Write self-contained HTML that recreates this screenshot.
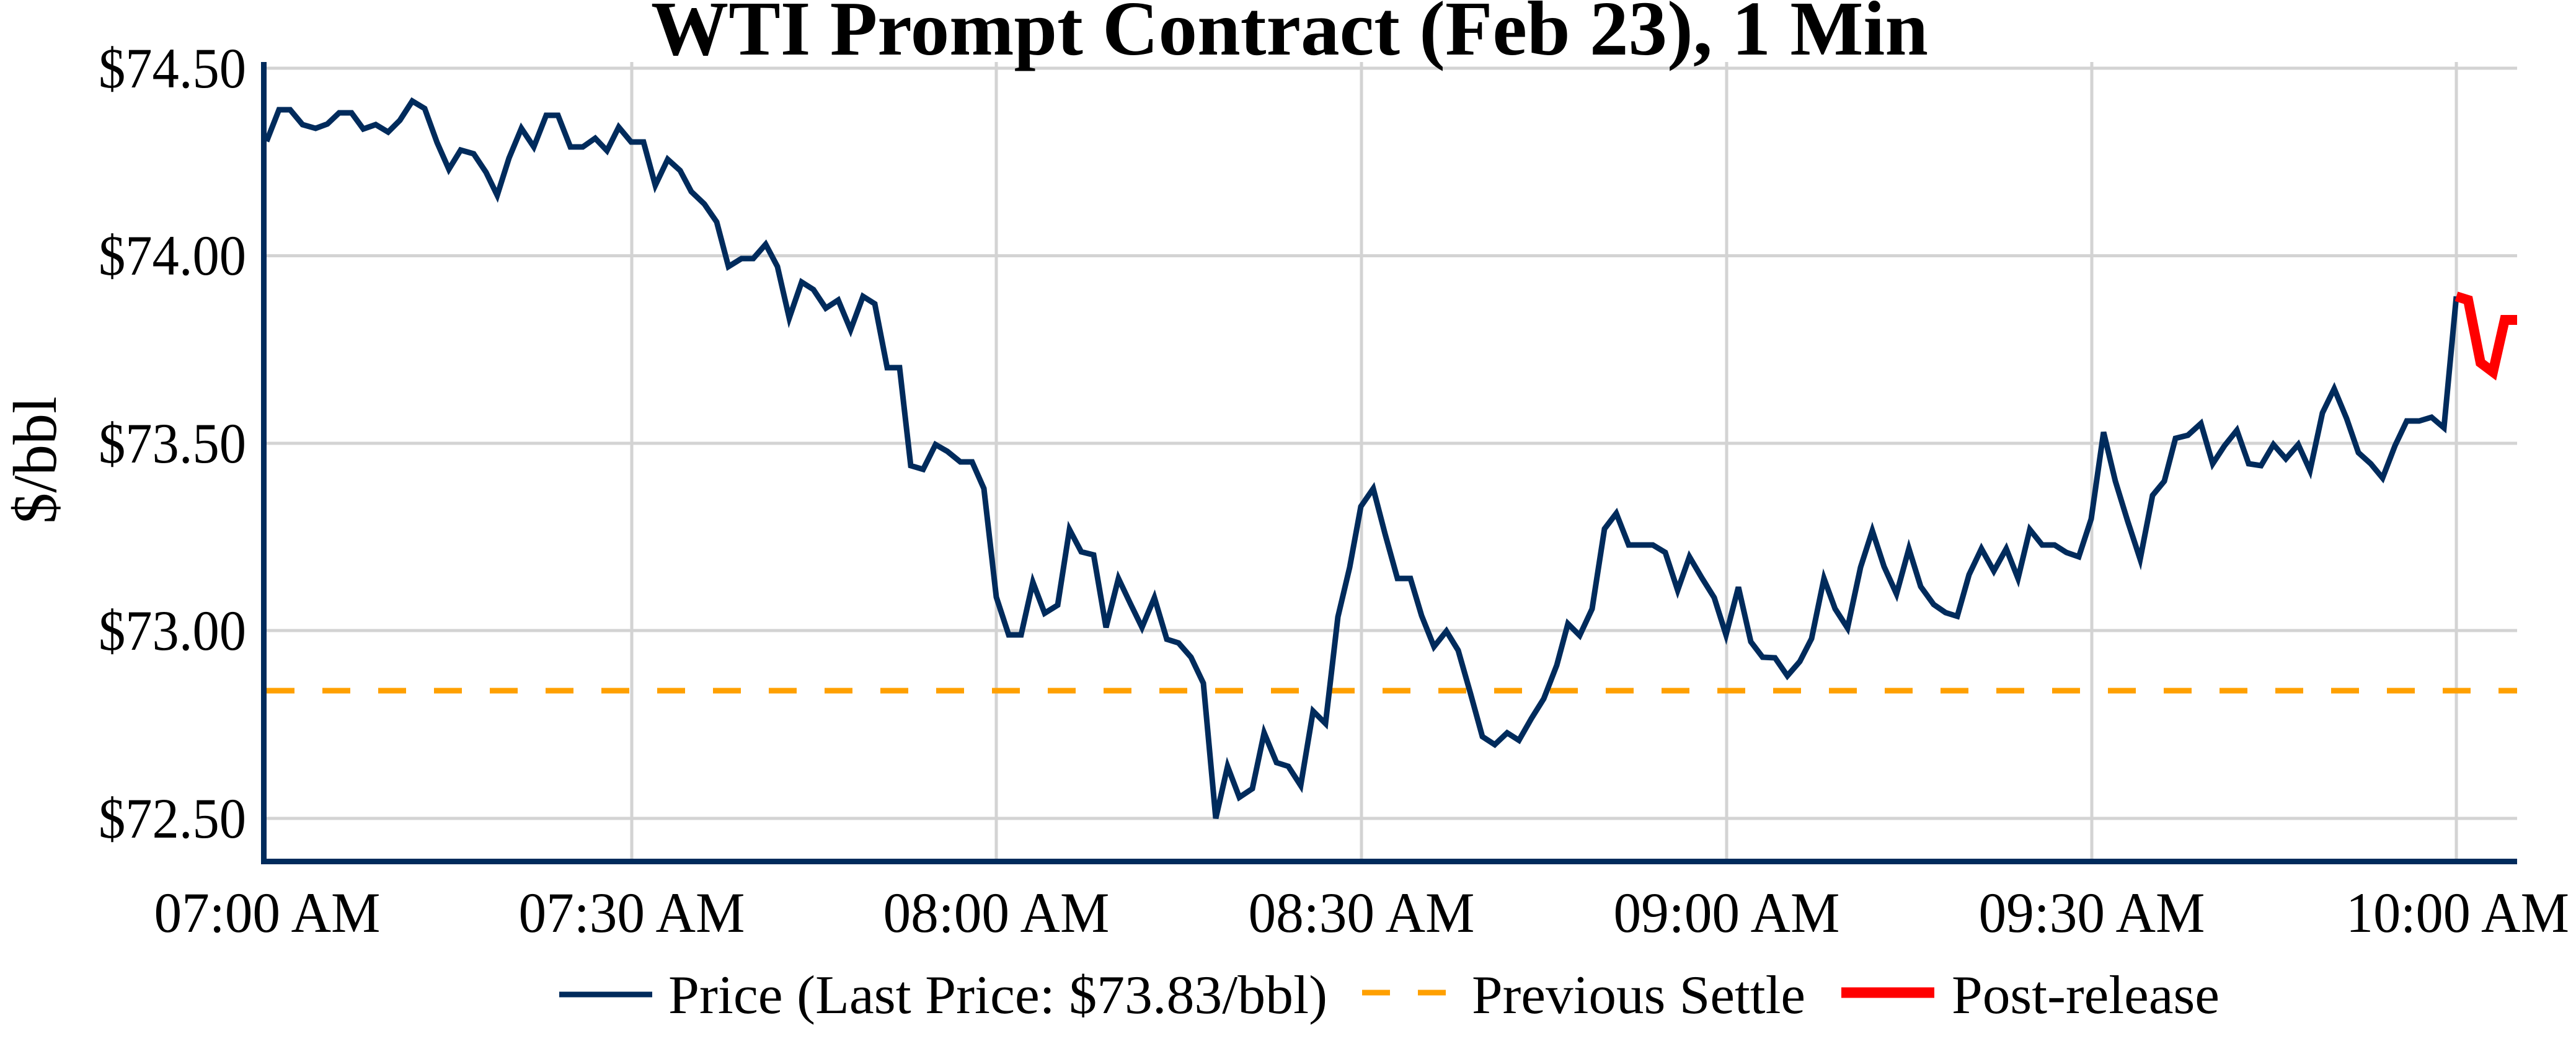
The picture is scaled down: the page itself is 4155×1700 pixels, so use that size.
<!DOCTYPE html>
<html><head><meta charset="utf-8"><style>html,body{margin:0;padding:0;background:#fff}svg{display:block}</style></head>
<body>
<svg width="4155" height="1700" viewBox="0 0 4155 1700" xmlns="http://www.w3.org/2000/svg" font-family="'Liberation Serif', serif">
<rect width="4155" height="1700" fill="#fff"/>
<g stroke="#d3d3d3" stroke-width="5">
<line x1="430" y1="110" x2="4060" y2="110"/>
<line x1="430" y1="412.5" x2="4060" y2="412.5"/>
<line x1="430" y1="715" x2="4060" y2="715"/>
<line x1="430" y1="1017" x2="4060" y2="1017"/>
<line x1="430" y1="1320" x2="4060" y2="1320"/>
<line x1="1019" y1="100" x2="1019" y2="1386"/>
<line x1="1607" y1="100" x2="1607" y2="1386"/>
<line x1="2196" y1="100" x2="2196" y2="1386"/>
<line x1="2785" y1="100" x2="2785" y2="1386"/>
<line x1="3374" y1="100" x2="3374" y2="1386"/>
<line x1="3962" y1="100" x2="3962" y2="1386"/>
</g>
<line x1="430" y1="1114" x2="4060" y2="1114" stroke="#ffa000" stroke-width="9" stroke-dasharray="45 45"/>
<polyline fill="none" stroke="#002b5c" stroke-width="9" stroke-linejoin="miter" points="430,228 450,177 468,177 488,201 509,207 528,200 547,182 567,182 586,208 606,201 626,213 645,194 665,163 685,175 705,230 724,273 743,242 764,248 784,278 802,315 821,255 841,207 861,237 881,186 900,186 920,237 940,237 960,223 979,243 998,205 1018,229 1038,229 1057,299 1077,257 1097,275 1115,309 1136,329 1156,358 1175,430 1196,417 1215,417 1235,394 1254,430 1273,513 1293,455 1312,467 1332,497 1352,484 1372,532 1392,478 1411,490 1431,593 1451,593 1469,751 1489,757 1509,717 1528,728 1549,745 1568,745 1587,788 1607,963 1627,1024 1647,1024 1666,939 1685,989 1706,976 1725,854 1744,890 1764,895 1784,1012 1804,933 1823,973 1842,1012 1862,964 1882,1031 1901,1037 1921,1060 1941,1102 1961,1320 1980,1236 1999,1286 2020,1272 2039,1182 2059,1230 2078,1236 2098,1267 2118,1147 2138,1167 2158,995 2177,915 2195,817 2215,788 2234,861 2254,933 2275,933 2293,993 2313,1043 2333,1018 2352,1049 2372,1119 2391,1188 2411,1201 2431,1182 2450,1194 2470,1159 2490,1127 2511,1073 2529,1006 2548,1025 2568,982 2588,853 2607,828 2627,879 2647,879 2666,879 2686,891 2706,952 2725,898 2745,932 2765,964 2784,1024 2804,947 2824,1035 2843,1060 2863,1061 2883,1090 2903,1067 2922,1030 2942,933 2960,982 2980,1013 3001,915 3020,856 3039,914 3059,958 3079,885 3098,946 3119,975 3138,988 3157,994 3176,927 3196,885 3216,921 3236,885 3255,933 3274,854 3294,879 3314,879 3333,891 3353,898 3373,837 3393,697 3412,776 3432,841 3452,902 3472,799 3491,776 3509,707 3529,702 3550,683 3569,748 3588,719 3608,694 3627,748 3647,751 3667,717 3687,740 3707,717 3726,759 3746,666 3765,627 3785,675 3804,730 3824,748 3843,771 3863,719 3882,679 3902,679 3922,673 3942,690 3962,478"/>
<polyline fill="none" stroke="#ff0000" stroke-width="16" stroke-linejoin="miter" points="3962,478 3981,484 4001,585 4021,600 4040,516 4060,516"/>
<line x1="425.5" y1="100" x2="425.5" y2="1394" stroke="#002b5c" stroke-width="9"/>
<line x1="421" y1="1389.5" x2="4060" y2="1389.5" stroke="#002b5c" stroke-width="9"/>
<text x="2080" y="88" font-size="125" font-weight="bold" text-anchor="middle" textLength="2060" lengthAdjust="spacingAndGlyphs">WTI Prompt Contract (Feb 23), 1 Min</text>
<g font-size="92" text-anchor="end">
<text x="397" y="141" textLength="238" lengthAdjust="spacingAndGlyphs">$74.50</text>
<text x="397" y="443" textLength="238" lengthAdjust="spacingAndGlyphs">$74.00</text>
<text x="397" y="746" textLength="238" lengthAdjust="spacingAndGlyphs">$73.50</text>
<text x="397" y="1048" textLength="238" lengthAdjust="spacingAndGlyphs">$73.00</text>
<text x="397" y="1351" textLength="238" lengthAdjust="spacingAndGlyphs">$72.50</text>
</g>
<g font-size="92" text-anchor="middle">
<text x="431" y="1503" textLength="365" lengthAdjust="spacingAndGlyphs">07:00 AM</text>
<text x="1019" y="1503" textLength="365" lengthAdjust="spacingAndGlyphs">07:30 AM</text>
<text x="1607" y="1503" textLength="365" lengthAdjust="spacingAndGlyphs">08:00 AM</text>
<text x="2196" y="1503" textLength="365" lengthAdjust="spacingAndGlyphs">08:30 AM</text>
<text x="2785" y="1503" textLength="365" lengthAdjust="spacingAndGlyphs">09:00 AM</text>
<text x="3374" y="1503" textLength="365" lengthAdjust="spacingAndGlyphs">09:30 AM</text>
<text x="3964" y="1503" textLength="360" lengthAdjust="spacingAndGlyphs">10:00 AM</text>
</g>
<text transform="translate(90,742) rotate(-90)" font-size="100" text-anchor="middle">$/bbl</text>
<line x1="902" y1="1604" x2="1052" y2="1604" stroke="#002b5c" stroke-width="9"/>
<text x="1078" y="1634" font-size="88" textLength="1063" lengthAdjust="spacingAndGlyphs">Price (Last Price: $73.83/bbl)</text>
<line x1="2197" y1="1601" x2="2340" y2="1601" stroke="#ffa000" stroke-width="9" stroke-dasharray="45 45"/>
<text x="2374" y="1634" font-size="88" textLength="538" lengthAdjust="spacingAndGlyphs">Previous Settle</text>
<line x1="2970" y1="1601" x2="3120" y2="1601" stroke="#ff0000" stroke-width="17"/>
<text x="3148" y="1634" font-size="88" textLength="432" lengthAdjust="spacingAndGlyphs">Post-release</text>
</svg>
</body></html>
